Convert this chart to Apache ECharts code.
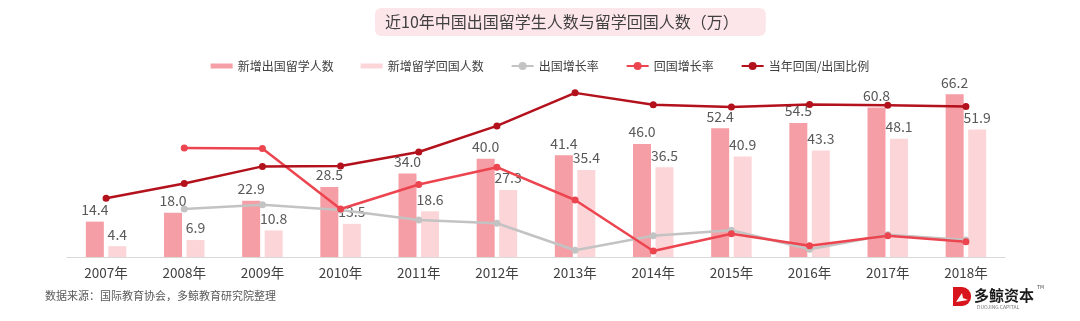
<!DOCTYPE html>
<html>
<head>
<meta charset="utf-8">
<script src="https://cdn.jsdelivr.net/npm/echarts@6/dist/echarts.min.js"></script>
<style>
html,body{margin:0;padding:0;background:#fff;}
#c{width:1080px;height:321px;}
</style>
</head>
<body>
<div id="c"></div>
<script>
// ---- data ----
const years = ['2007年','2008年','2009年','2010年','2011年','2012年','2013年','2014年','2015年','2016年','2017年','2018年'];
const outbound = [14.4, 18.0, 22.9, 28.5, 34.0, 40.0, 41.4, 46.0, 52.4, 54.5, 60.8, 66.2];
const returned = [4.4, 6.9, 10.8, 13.5, 18.6, 27.3, 35.4, 36.5, 40.9, 43.3, 48.1, 51.9];
const outGrowth = [null, 25.0, 27.2, 24.5, 19.3, 17.6, 3.5, 11.1, 13.9, 4.0, 11.6, 8.9];
const retGrowth = [null, 56.8, 56.5, 25.0, 37.8, 46.8, 29.7, 3.1, 12.1, 5.9, 11.1, 7.9];
const ratio = [30.6, 38.3, 47.2, 47.4, 54.7, 68.3, 85.5, 79.3, 78.1, 79.4, 79.1, 78.4];
const seriesNames = ['新增出国留学人数','新增留学回国人数','出国增长率','回国增长率','当年回国/出国比例'];
const titleText = '近10年中国出国留学生人数与留学回国人数（万）';
const sourceText = '数据来源：国际教育协会，多鲸教育研究院整理';

const FONT = '"Noto Sans CJK SC", "Noto Sans", sans-serif';
const C_OUT = '#f69ea5', C_RET = '#fcd5d8', C_GRAY = '#c3c3c3', C_RED = '#ec4550', C_DARK = '#b3111c';

const chart = echarts.init(document.getElementById('c'));
const barLabel = {
  show: true, position: 'top', distance: 5, color: '#595959', fontSize: 14, fontFamily: FONT,
  formatter: p => Number(p.value).toFixed(1)
};
const barIcon = 'path://M0,0H22V5H0Z';
const lineCommon = (name, data, color) => ({
  name, type: 'line', yAxisIndex: 1, data,
  symbol: 'circle', symbolSize: 7, connectNulls: false,
  lineStyle: { width: 2.5, color }, itemStyle: { color }
});

chart.setOption({
  animation: false,
  textStyle: { fontFamily: FONT },
  title: {
    text: titleText, left: 375, top: 8,
    backgroundColor: '#fde6e9', borderRadius: 6, padding: [6, 27, 6, 10],
    textStyle: { fontSize: 16, color: '#404040', fontWeight: 'normal', fontFamily: FONT }
  },
  legend: {
    top: 55, left: 'center', itemGap: 27, itemWidth: 22, itemHeight: 10,
    textStyle: { fontSize: 12, color: '#404040', fontFamily: FONT },
    data: [
      { name: seriesNames[0], icon: barIcon },
      { name: seriesNames[1], icon: barIcon },
      { name: seriesNames[2] },
      { name: seriesNames[3] },
      { name: seriesNames[4] }
    ]
  },
  grid: { left: 67, right: 75, top: 85, bottom: 64 },
  xAxis: {
    type: 'category', data: years,
    axisLine: { lineStyle: { color: '#d9d9d9', width: 1 } },
    axisTick: { show: false },
    axisLabel: { color: '#404040', fontSize: 13.5, fontFamily: FONT, margin: 9 }
  },
  yAxis: [
    { type: 'value', min: 0, max: 70, show: false, splitLine: { show: false } },
    { type: 'value', min: 0, max: 89.6, show: false, splitLine: { show: false } }
  ],
  series: [
    { name: seriesNames[0], type: 'bar', data: outbound, barWidth: 18, barGap: '25%',
      itemStyle: { color: C_OUT }, label: barLabel },
    { name: seriesNames[1], type: 'bar', data: returned, barWidth: 18, barGap: '25%',
      itemStyle: { color: C_RET }, label: barLabel },
    lineCommon(seriesNames[2], outGrowth, C_GRAY),
    lineCommon(seriesNames[3], retGrowth, C_RED),
    lineCommon(seriesNames[4], ratio, C_DARK)
  ],
  graphic: [
    { type: 'text', x: 45, y: 290, style: { text: sourceText, fontSize: 11, fill: '#595959', fontFamily: FONT } },
    { type: 'rect', x: 953, y: 287, shape: { width: 18, height: 19, r: [0, 9, 9, 0] }, style: { fill: '#d8141c' } },
    { type: 'polygon', x: 953, y: 287, shape: { points: [[3,15],[9,6],[10,11],[15,13],[9,14]] }, style: { fill: '#fff' } },
    { type: 'text', x: 974, y: 288, style: { text: '多鲸资本', fontSize: 15, fontWeight: 'bold', fill: '#1a1a1a', fontFamily: FONT } },
    { type: 'text', x: 977, y: 305, style: { text: 'DUOJING CAPITAL', fontSize: 5, fill: '#777', fontFamily: FONT } },
    { type: 'text', x: 1037, y: 285, style: { text: 'TM', fontSize: 5, fill: '#444', fontFamily: FONT } }
  ]
});
</script>
</body>
</html>
